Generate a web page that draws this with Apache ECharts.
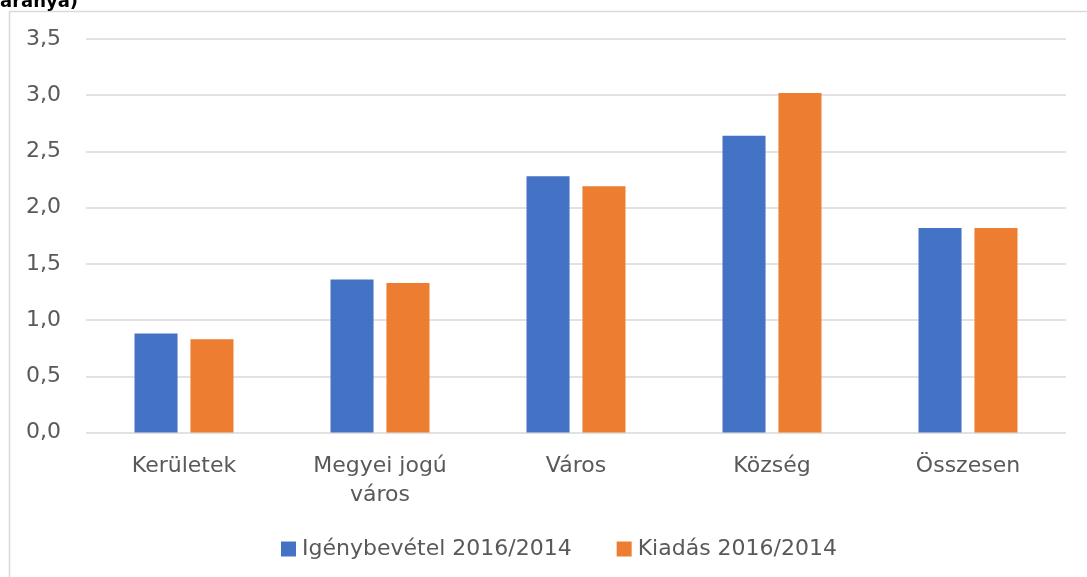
<!DOCTYPE html>
<html>
<head>
<meta charset="utf-8">
<script src="https://cdn.jsdelivr.net/npm/echarts@6/dist/echarts.min.js"></script>
<style>
html,body{margin:0;padding:0;background:#fff;}
#chart{width:1087px;height:577px;}
</style>
</head>
<body>
<div id="chart"></div>
<script>
const categories = ['Kerületek', 'Megyei jogú\nváros', 'Város', 'Község', 'Összesen'];
const igenybevetel = [0.88, 1.36, 2.28, 2.64, 1.82];
const kiadas = [0.83, 1.33, 2.19, 3.02, 1.82];
const seriesNames = ['Igénybevétel 2016/2014', 'Kiadás 2016/2014'];
const titleText = 'aránya)';

const FONT = 'DejaVu Sans';
const TXT = '#595959';

const chart = echarts.init(document.getElementById('chart'), null, {renderer: 'canvas'});
chart.setOption({
  animation: false,
  backgroundColor: '#fff',
  graphic: [
    {type: 'rect', shape: {x: 9.5, y: 11.5, width: 1200, height: 700},
     style: {fill: 'none', stroke: '#d9d9d9', lineWidth: 1.5}, silent: true},
    {type: 'text', x: 0, y: -7,
     style: {text: titleText, font: 'bold 18px "DejaVu Sans"', fill: '#000', textVerticalAlign: 'top'}}
  ],
  grid: {left: 86, right: 21, top: 39, bottom: 144.5, containLabel: false},
  legend: {
    left: 281, top: 538, padding: 0,
    itemWidth: 15, itemHeight: 15, itemGap: 45,
    icon: 'rect',
    textStyle: {fontFamily: FONT, fontSize: 22, color: TXT, padding: [0, 0, 0, 1]},
    data: seriesNames
  },
  xAxis: {
    type: 'category',
    data: categories,
    axisLine: {show: false},
    axisTick: {show: false},
    axisLabel: {fontFamily: FONT, fontSize: 22, color: TXT, margin: 19, lineHeight: 29, interval: 0}
  },
  yAxis: {
    type: 'value',
    min: 0, max: 3.5, interval: 0.5,
    axisLine: {show: false},
    axisTick: {show: false},
    splitLine: {lineStyle: {color: '#d9d9d9', width: 1.5}},
    axisLabel: {fontFamily: FONT, fontSize: 22, color: TXT, margin: 25,
      formatter: v => v.toFixed(1).replace('.', ',')}
  },
  series: [
    {name: seriesNames[0], type: 'bar', data: igenybevetel, itemStyle: {color: '#4472C4'},
     barGap: '30%', barCategoryGap: '49.5%'},
    {name: seriesNames[1], type: 'bar', data: kiadas, itemStyle: {color: '#ED7D31'},
     barGap: '30%', barCategoryGap: '49.5%'}
  ]
});
</script>
</body>
</html>
